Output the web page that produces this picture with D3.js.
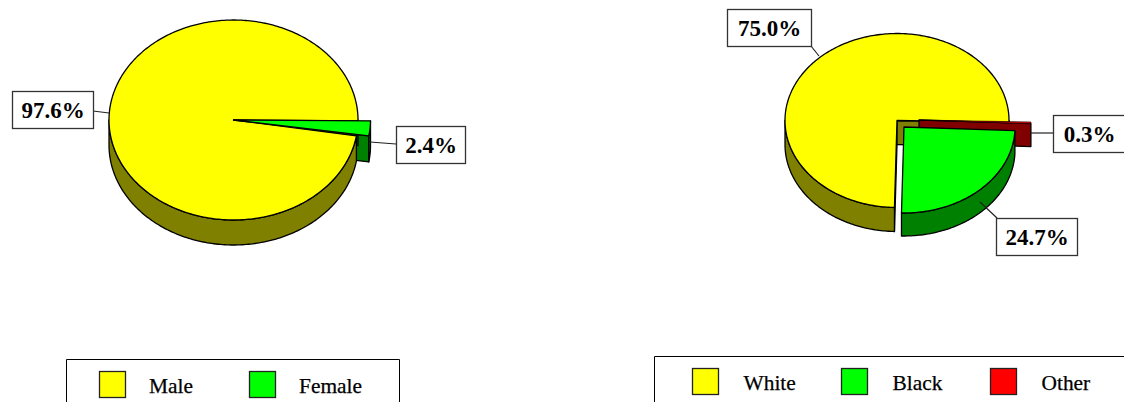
<!DOCTYPE html>
<html>
<head>
<meta charset="utf-8">
<script src="https://cdn.jsdelivr.net/npm/d3@7"></script>
<style>
  html, body { margin: 0; padding: 0; background: #fff; }
  svg { display: block; }
  text { font-family: "Liberation Serif", serif; fill: #000; }
</style>
</head>
<body>
<div id="chart"></div>
<script>
var width = 1124;
var height = 402;

// --- Values
var genderLabels = ['Male', 'Female'];
var genderValues = [97.6, 2.4];
var genderColors = ['#ffff00', '#00ff00'];
var genderShades = ['#808000', '#008000'];

var raceLabels = ['White', 'Black', 'Other'];
var raceValues = [75.0, 24.7, 0.3];
var raceColors = ['#ffff00', '#00ff00', '#ff0000'];
var raceShades = ['#808000', '#008000', '#800000'];

var svg = d3.select('#chart').append('svg')
  .attr('width', width)
  .attr('height', height);

var TAU = 2 * Math.PI;
var deg = Math.PI / 180;

// --- Point on an ellipse, angle is clockwise from 12 o'clock
function pt(p, a) {
  return [p.cx + p.rx * Math.sin(a), p.cy - p.ry * Math.cos(a)];
}

function arcPoints(p, a0, a1) {
  var n = Math.max(2, Math.ceil(Math.abs(a1 - a0) / (1 * deg)));
  return d3.range(n + 1).map(function(i) { return pt(p, a0 + (a1 - a0) * i / n); });
}

var line = d3.line();

function topPath(p, a0, a1) {
  return line([[p.cx, p.cy]].concat(arcPoints(p, a0, a1))) + 'Z';
}

// --- Outer rim, only the part that faces the viewer
function rimPaths(p, a0, a1) {
  var out = [];
  [0, TAU, -TAU].forEach(function(shift) {
    var s = Math.max(a0 + shift, 90 * deg);
    var e = Math.min(a1 + shift, 270 * deg);
    if (e > s) {
      var upper = arcPoints(p, s, e);
      var lower = upper.map(function(d) { return [d[0], d[1] + p.depth]; }).reverse();
      out.push(line(upper.concat(lower)) + 'Z');
    }
  });
  return out;
}

// --- Cut faces of a slice, only when they face the viewer
function wallPaths(p, a0, a1) {
  var out = [];
  function wall(a) {
    var e = pt(p, a);
    out.push(line([[p.cx, p.cy], e, [e[0], e[1] + p.depth], [p.cx, p.cy + p.depth]]) + 'Z');
  }
  if (-Math.sin(a0) > 0) wall(a0);
  if (Math.sin(a1) > 0) wall(a1);
  return out;
}

function drawFace(g, d, fill, sw) {
  g.append('path')
    .attr('d', d)
    .attr('fill', fill)
    .attr('stroke', '#000')
    .attr('stroke-width', sw || 1.3)
    .attr('stroke-linejoin', 'round');
}

function drawWalls(g, p, a, shade) {
  wallPaths(p, a.a0, a.a1).forEach(function(d) { drawFace(g, d, shade); });
}

function drawRim(g, p, a, shade) {
  rimPaths(p, a.a0, a.a1).forEach(function(d) { drawFace(g, d, shade); });
}

// --- Slices run counter-clockwise from the start angle, as in the original
function sliceAngles(values, start) {
  var arcs = d3.pie().sort(null).startAngle(start).endAngle(start - TAU)(values);
  return arcs.map(function(d) {
    return { a0: Math.min(d.startAngle, d.endAngle), a1: Math.max(d.startAngle, d.endAngle) };
  });
}

function drawLabel(g, b, txt) {
  g.append('line')
    .attr('x1', b.from[0]).attr('y1', b.from[1])
    .attr('x2', b.to[0]).attr('y2', b.to[1])
    .attr('stroke', '#222')
    .attr('stroke-width', 1.2);
  g.append('rect')
    .attr('x', b.x + 0.5).attr('y', b.y + 0.5)
    .attr('width', b.w).attr('height', b.h)
    .attr('fill', '#fff')
    .attr('stroke', '#333')
    .attr('stroke-width', 1.3);
  g.append('text')
    .attr('x', b.x + b.w / 2 + 0.5)
    .attr('y', b.y + b.h / 2 + 8)
    .attr('text-anchor', 'middle')
    .attr('font-size', 23)
    .attr('font-weight', 'bold')
    .text(txt);
}

function drawLegend(g, box, labels, colors, xs, textGap) {
  g.append('path')
    .attr('d', box)
    .attr('fill', 'none')
    .attr('stroke', '#000')
    .attr('stroke-width', 1);
  labels.forEach(function(name, i) {
    g.append('rect')
      .attr('x', xs[i]).attr('y', 0.5)
      .attr('width', 26).attr('height', 26)
      .attr('fill', colors[i])
      .attr('stroke', '#222')
      .attr('stroke-width', 1.3);
    g.append('text')
      .attr('x', xs[i] + textGap)
      .attr('y', 22)
      .attr('font-size', 21.4)
      .attr('stroke', '#000')
      .attr('stroke-width', 0.25)
      .text(name);
  });
}

function pct(v) { return d3.format('.1f')(v) + '%'; }

// --- Left pie (gender)
var gLeft = svg.append('g');
var pLeft = { cx: 233.5, cy: 120, rx: 124.5, ry: 100, depth: 25 };
var pFemale = { cx: 233.5, cy: 120, rx: 137, ry: 100, depth: 26 };
var leftAngles = sliceAngles(genderValues, 450.5 * deg);

drawWalls(gLeft, pFemale, leftAngles[1], genderShades[1]);
drawRim(gLeft, pFemale, leftAngles[1], genderShades[1]);
drawRim(gLeft, pLeft, leftAngles[0], genderShades[0]);
drawFace(gLeft, topPath(pLeft, leftAngles[0].a0, leftAngles[0].a1), genderColors[0]);
drawFace(gLeft, topPath(pFemale, leftAngles[1].a0, leftAngles[1].a1), genderColors[1]);

drawLabel(gLeft, { x: 12, y: 91, w: 81, h: 37, from: [93, 111], to: [109, 113] }, pct(genderValues[0]));
drawLabel(gLeft, { x: 396, y: 126, w: 69, h: 37, from: [370, 142], to: [396, 144] }, pct(genderValues[1]));

// --- Right pie (race)
var gRight = svg.append('g');
var pWhite = { cx: 897, cy: 120.5, rx: 112, ry: 87, depth: 24 };
var pBlack = { cx: 904, cy: 127, rx: 111, ry: 86, depth: 23 };
var pOther = { cx: 919, cy: 120, rx: 112, ry: 87, depth: 23 };
var rightAngles = sliceAngles(raceValues, 451.3 * deg);

drawWalls(gRight, pWhite, rightAngles[0], raceShades[0]);
drawRim(gRight, pWhite, rightAngles[0], raceShades[0]);
drawFace(gRight, topPath(pWhite, rightAngles[0].a0, rightAngles[0].a1), raceColors[0]);
drawWalls(gRight, pOther, rightAngles[2], raceShades[2]);
drawFace(gRight, topPath(pOther, rightAngles[2].a0, rightAngles[2].a1), raceColors[2], 0.6);
drawWalls(gRight, pBlack, rightAngles[1], raceShades[1]);
drawRim(gRight, pBlack, rightAngles[1], raceShades[1]);
drawFace(gRight, topPath(pBlack, rightAngles[1].a0, rightAngles[1].a1), raceColors[1]);

drawLabel(gRight, { x: 727, y: 9, w: 84, h: 37, from: [811, 46], to: [819, 56] }, pct(raceValues[0]));
drawLabel(gRight, { x: 996, y: 218, w: 81, h: 37, from: [980, 202], to: [997, 218] }, pct(raceValues[1]));
drawLabel(gRight, { x: 1053, y: 115, w: 72, h: 37, from: [1031, 133], to: [1053, 133] }, pct(raceValues[2]));

// --- Legends, cut off by the bottom of the picture
var legLeft = svg.append('g').attr('transform', 'translate(0,371)');
drawLegend(legLeft, 'M66.5,31V-11.5H399.5V31', genderLabels, genderColors, [99.5, 249.5], 49.5);
var legRight = svg.append('g').attr('transform', 'translate(0,368)');
drawLegend(legRight, 'M654.5,34V-11.5H1124', raceLabels, raceColors, [692.5, 841.5, 990.5], 51);
</script>
</body>
</html>
